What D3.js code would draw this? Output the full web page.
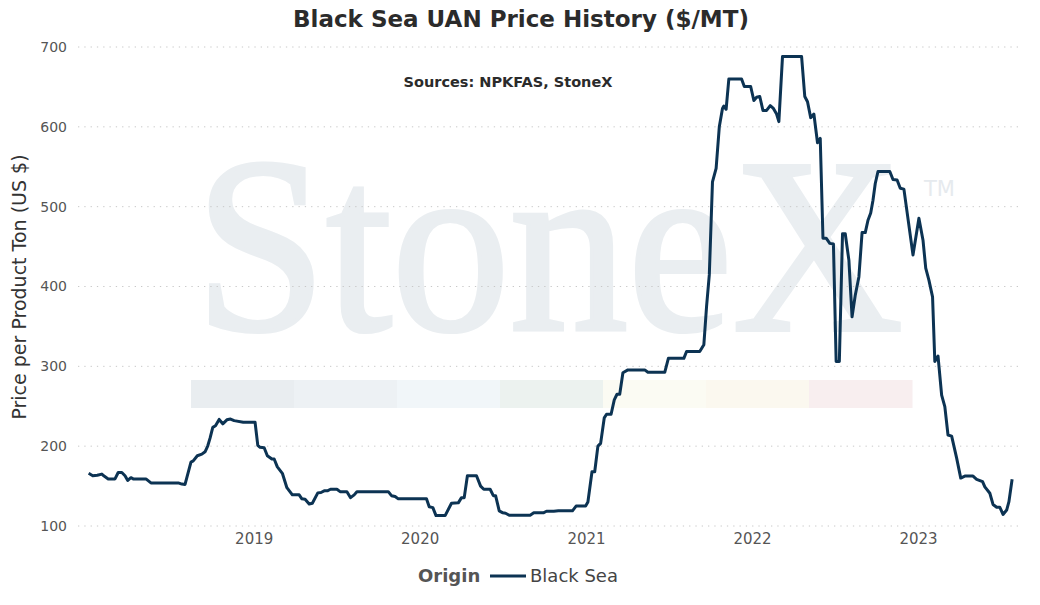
<!DOCTYPE html>
<html>
<head>
<meta charset="utf-8">
<script src="https://cdn.jsdelivr.net/npm/d3@7/dist/d3.min.js"></script>
<style>
  body { margin: 0; background: #fff; }
  svg { display: block; font-family: "DejaVu Sans", Verdana, sans-serif; }
</style>
</head>
<body>
<div id="chart"></div>
<script>
// Black Sea UAN weekly-ish price points
const priceDates = [
  '2018-01-03','2018-01-12','2018-01-22','2018-02-01','2018-02-06','2018-02-15','2018-03-02','2018-03-09',
  '2018-03-17','2018-03-24','2018-03-30','2018-04-06','2018-04-11','2018-05-09','2018-05-20','2018-07-19',
  '2018-07-27','2018-08-03','2018-08-16','2018-08-21','2018-08-30','2018-09-09','2018-09-16','2018-09-22',
  '2018-09-27','2018-10-03','2018-10-09','2018-10-17','2018-10-25','2018-11-03','2018-11-11','2018-11-19',
  '2018-12-09','2019-01-04','2019-01-10','2019-01-15','2019-01-24','2019-01-31','2019-02-10','2019-02-15',
  '2019-02-22','2019-03-05','2019-03-15','2019-03-27','2019-04-11','2019-04-17','2019-04-24','2019-05-03',
  '2019-05-10','2019-05-22','2019-05-29','2019-06-05','2019-06-12','2019-06-19','2019-07-03','2019-07-10',
  '2019-07-25','2019-08-02','2019-08-10','2019-08-16','2019-10-24','2019-10-31','2019-11-08','2019-11-15',
  '2020-01-16','2020-01-22','2020-01-30','2020-02-06','2020-02-26','2020-03-11','2020-03-26','2020-04-02',
  '2020-04-08','2020-04-15','2020-05-05','2020-05-14','2020-05-21','2020-06-04','2020-06-11','2020-06-16',
  '2020-06-24','2020-07-02','2020-07-08','2020-07-16','2020-08-31','2020-09-08','2020-09-29','2020-10-06',
  '2020-10-22','2020-11-01','2020-12-02','2020-12-10','2020-12-31','2021-01-05','2021-01-14','2021-01-20',
  '2021-01-27','2021-02-02','2021-02-10','2021-02-15','2021-02-25','2021-03-04','2021-03-10','2021-03-16',
  '2021-03-23','2021-04-03','2021-05-10','2021-05-17','2021-06-23','2021-07-01','2021-08-04','2021-08-10',
  '2021-09-08','2021-09-17','2021-09-23','2021-09-29','2021-10-06','2021-10-14','2021-10-21','2021-10-28',
  '2021-10-31','2021-11-05','2021-11-11','2021-12-09','2021-12-15','2021-12-29','2022-01-05','2022-01-11',
  '2022-01-18','2022-01-25','2022-02-02','2022-02-10','2022-02-17','2022-02-24','2022-03-01','2022-03-09',
  '2022-04-20','2022-04-27','2022-05-03','2022-05-10','2022-05-17','2022-05-25','2022-05-31','2022-06-06',
  '2022-06-13','2022-06-21','2022-06-29','2022-07-05','2022-07-12','2022-07-19','2022-07-25','2022-08-02',
  '2022-08-09','2022-08-16','2022-08-24','2022-08-31','2022-09-07','2022-09-13','2022-09-19','2022-09-24',
  '2022-09-29','2022-10-05','2022-10-31','2022-11-07','2022-11-16','2022-11-23','2022-12-01','2022-12-21',
  '2023-01-03','2023-01-12','2023-01-18','2023-01-25','2023-02-02','2023-02-07','2023-02-14','2023-02-22',
  '2023-03-01','2023-03-08','2023-03-16','2023-03-27','2023-04-05','2023-04-14','2023-05-02','2023-05-10',
  '2023-05-23','2023-05-28','2023-06-08','2023-06-15','2023-06-23','2023-06-30','2023-07-07','2023-07-15',
  '2023-07-20','2023-07-27'
];
const priceValues = [
  166,163,163.5,165,162.5,159,159,167,
  167,163,157,160.5,159,159,154,154,
  152.5,152,180,181.5,188,190,193,200.5,
  210,223.5,225.5,233.5,228,233,234,232,
  230,230,201,198.5,198,188,184,184,
  174,166,148,139,139,134,133.5,127.5,
  128.5,141.5,142,144,144,146,146,143,
  143,135.5,139,143,143,138,137,134,
  134,124,123,113,113,128.5,129,135.5,
  135.5,163,163,150,146,146,138,138,
  119,116.5,116,113.5,113.5,116.5,116.5,118.5,
  118.5,119,119,125,125,130,168,168,
  200,203.5,235.5,240,240,258,265,265,
  292,295.5,295.5,292.5,292.5,310,310,318.5,
  318.5,327,375,414.5,531,548,600,623,
  626,622,660,660,650.5,650.5,633,637,
  638,620.5,620.5,626.5,623,616,606.5,688,
  688,638,631.5,611.5,616,580,585.5,460.5,
  460.5,454,453.3,306,306,466,466,433,
  362,389,412,467.5,467.5,483,492,508,
  529,544,544,534,533.5,523,522,439.5,
  485.5,458,423,408,387,306,313,264,
  249.5,214,212.5,185,160,162.5,162.5,158.5,
  155.5,149,141,127,123.5,123.5,114.5,120,
  130.5,158.5
];
const yTicks = [100, 200, 300, 400, 500, 600, 700];
const xTickYears = [2019, 2020, 2021, 2022, 2023];
const seriesName = 'Black Sea';

// watermark colour strip under the logo
const bandColors = ['#e9edf0', '#edf1f4', '#f1f6f9', '#ecf2ef', '#fbfbf3', '#fbf8ef', '#f8eeef'];

const W = 1040, H = 605;
const lineColor = '#0c3353';
const parse = d3.utcParse('%Y-%m-%d');
const data = priceDates.map((d, i) => ({date: parse(d), value: priceValues[i]}));

const svg = d3.select('#chart').append('svg')
  .attr('width', W)
  .attr('height', H);

const x = d3.scaleUtc()
  .domain([Date.UTC(2019, 0, 1), Date.UTC(2023, 0, 1)])
  .range([253.7, 918]);
const y = d3.scaleLinear()
  .domain([100, 700])
  .range([526, 47]);

// Watermark
const wm = svg.append('g');
const bandX = d3.scaleBand().domain(d3.range(bandColors.length)).range([191, 912]);
wm.selectAll('rect')
  .data(bandColors)
  .enter().append('rect')
  .attr('x', (d, i) => bandX(i))
  .attr('y', 380)
  .attr('width', bandX.bandwidth() + 0.5)
  .attr('height', 28)
  .attr('fill', d => d);
wm.append('text')
  .attr('transform', 'translate(195,330) scale(1,1.06)')
  .style('font-family', '"Liberation Serif", "DejaVu Serif", serif')
  .style('font-size', '236px')
  .attr('fill', '#eaeef1')
  .attr('stroke', '#eaeef1')
  .attr('stroke-width', 4)
  .text('StoneX');
wm.append('text')
  .attr('x', 924)
  .attr('y', 196)
  .style('font-size', '21px')
  .attr('fill', '#e6eaee')
  .text('TM');

// Gridlines
svg.append('g')
  .selectAll('line')
  .data(yTicks)
  .enter().append('line')
  .attr('x1', 78)
  .attr('x2', 1020)
  .attr('y1', d => y(d))
  .attr('y2', d => y(d))
  .attr('stroke', '#c8c8c8')
  .attr('stroke-width', 1)
  .attr('stroke-dasharray', '1.3,5');

// Y axis (labels only)
const yAxis = svg.append('g')
  .attr('transform', 'translate(70,0)')
  .call(d3.axisLeft(y).tickValues(yTicks).tickSize(0).tickPadding(3));
yAxis.select('.domain').remove();
yAxis.selectAll('text')
  .style('font-family', '"DejaVu Sans", sans-serif')
  .style('font-size', '14px')
  .attr('fill', '#555');

// X axis (labels only)
const xAxis = svg.append('g')
  .attr('transform', 'translate(0,530)')
  .call(d3.axisBottom(x)
    .tickValues(xTickYears.map(yr => new Date(Date.UTC(yr, 0, 1))))
    .tickFormat(d3.utcFormat('%Y'))
    .tickSize(0).tickPadding(3));
xAxis.select('.domain').remove();
xAxis.selectAll('text')
  .style('font-family', '"DejaVu Sans", sans-serif')
  .style('font-size', '15px')
  .attr('fill', '#555');

// Line
const line = d3.line()
  .x(d => x(d.date))
  .y(d => y(d.value));
svg.append('path')
  .datum(data)
  .attr('d', line)
  .attr('fill', 'none')
  .attr('stroke', lineColor)
  .attr('stroke-width', 3)
  .attr('stroke-linejoin', 'round');

// Title and source note
svg.append('text')
  .attr('x', 521)
  .attr('y', 27)
  .attr('text-anchor', 'middle')
  .style('font-size', '23px')
  .style('font-weight', 'bold')
  .attr('fill', '#2b2b2b')
  .text('Black Sea UAN Price History ($/MT)');
svg.append('text')
  .attr('x', 508)
  .attr('y', 87)
  .attr('text-anchor', 'middle')
  .style('font-size', '14.5px')
  .style('font-weight', 'bold')
  .attr('fill', '#2b2b2b')
  .text('Sources: NPKFAS, StoneX');

// Y axis title
svg.append('text')
  .attr('transform', 'translate(26,287) rotate(-90)')
  .attr('text-anchor', 'middle')
  .style('font-size', '19px')
  .attr('fill', '#333')
  .text('Price per Product Ton (US $)');

// Legend
const legend = svg.append('g').attr('transform', 'translate(0,582)');
legend.append('text')
  .attr('x', 418)
  .style('font-size', '18px')
  .style('font-weight', 'bold')
  .attr('fill', '#555')
  .text('Origin');
legend.append('line')
  .attr('x1', 490).attr('x2', 526)
  .attr('y1', -6).attr('y2', -6)
  .attr('stroke', lineColor)
  .attr('stroke-width', 3);
legend.append('text')
  .attr('x', 530)
  .style('font-size', '18px')
  .attr('fill', '#444')
  .text(seriesName);
</script>
</body>
</html>
